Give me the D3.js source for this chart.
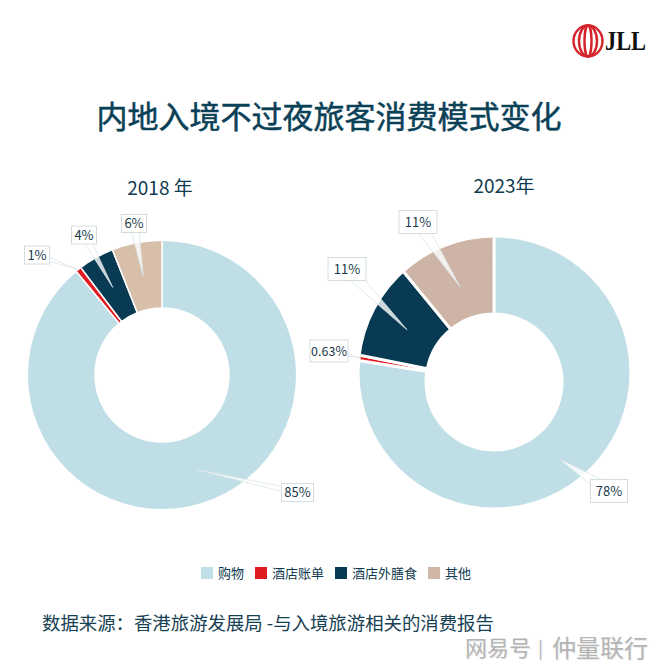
<!DOCTYPE html>
<html>
<head>
<meta charset="utf-8">
<script src="https://cdn.jsdelivr.net/npm/d3@7/dist/d3.min.js"></script>
<style>
    html, body { margin: 0; padding: 0; background: #fff; }
    svg { display: block; }
    text { font-family: "Noto Sans CJK SC", "Noto Sans", sans-serif; fill: #0f3b50; }
</style>
</head>
<body>
<div id="chart"></div>
<script>
// data
const categories = ["购物", "酒店账单", "酒店外膳食", "其他"];
const colors = ["#bfdee6", "#e01b22", "#083a53", "#d0b6a7"];
// the 2018 blue slice is drawn much larger than its printed 85%, so labels are kept apart
const values2018 = [89, 0.7, 4.3, 6];
const labels2018 = ["85%", "1%", "4%", "6%"];
const values2023 = [78, 0.63, 11, 11];
const labels2023 = ["78%", "0.63%", "11%", "11%"];

const width = 660, height = 670;

const svg = d3.select("#chart").append("svg")
    .attr("width", width)
    .attr("height", height);

// title
svg.append("text")
    .attr("x", 329)
    .attr("y", 128)
    .attr("text-anchor", "middle")
    .attr("font-size", 31)
    .attr("stroke", "#0b4157")
    .attr("stroke-width", 0.5)
    .style("fill", "#0b4157")
    .text("内地入境不过夜旅客消费模式变化");

// donut layout. In 2023 the hole sits lower than the outer circle, so the
// slices fan out from the hole and the outer circle is a clip.
const pies = [
    {
        id: "pie2018", title: "2018 年", titleX: 160, titleY: 195,
        values: values2018, labels: labels2018,
        cx: 162, cy: 375, outer: 134, hole: 67, clipCx: 162, clipCy: 375,
        stroke: 1.5, tan: "#d7bfaa",
        // box centre relative to the hole centre, box size, base width of pointer, radius of tip (null = centroid)
        callouts: [
            {dx: 135.5, dy: 117.5, w: 32, h: 18, base: 6, tip: null},
            {dx: -125, dy: -120, w: 25, h: 18, base: 5, tip: 134},
            {dx: -78, dy: -140, w: 25, h: 18, base: 8, tip: null},
            {dx: -28, dy: -151.5, w: 25, h: 18, base: 9, tip: null}
        ]
    },
    {
        id: "pie2023", title: "2023年", titleX: 504, titleY: 193,
        values: values2023, labels: labels2023,
        cx: 494, cy: 382, outer: 135, hole: 68, clipCx: 494.5, clipCy: 372.5,
        stroke: 3, tan: "#ceb4a6",
        callouts: [
            {dx: 115, dy: 109, w: 37, h: 23, base: 14, tip: null},
            {dx: -165, dy: -31, w: 38, h: 22, base: 4, tip: 135},
            {dx: -147, dy: -113, w: 38, h: 23, base: 13, tip: null},
            {dx: -76, dy: -160, w: 38, h: 23, base: 13, tip: null}
        ]
    }
];

const pie = d3.pie().sort(null);

pies.forEach(p => {
    const arcs = pie(p.values);

    svg.append("clipPath")
        .attr("id", p.id + "-clip")
        .append("circle")
        .attr("cx", p.clipCx)
        .attr("cy", p.clipCy)
        .attr("r", p.outer);

    svg.append("text")
        .attr("x", p.titleX)
        .attr("y", p.titleY)
        .attr("text-anchor", "middle")
        .attr("font-size", 19)
        .text(p.title);

    let g = svg.append("g")
        .attr("clip-path", "url(#" + p.id + "-clip)")
        .append("g")
        .attr("transform", "translate(" + p.cx + "," + p.cy + ")");

    let arc = d3.arc()
        .innerRadius(p.hole)
        .outerRadius(p.outer + 25);

    g.selectAll("path")
        .data(arcs)
        .enter().append("path")
        .attr("d", arc)
        .attr("fill", (d, i) => i === 3 ? p.tan : colors[i])
        .attr("stroke", "#fff")
        .attr("stroke-width", p.stroke);

    // callouts on top of the slices
    let labelArc = d3.arc().innerRadius(p.hole).outerRadius(p.outer);
    let callouts = svg.append("g")
        .attr("transform", "translate(" + p.cx + "," + p.cy + ")");

    arcs.forEach((d, i) => {
        let c = p.callouts[i];
        let tip = labelArc.centroid(d);
        if (c.tip) {
            let a = (d.startAngle + d.endAngle) / 2 - Math.PI / 2;
            tip = [c.tip * Math.cos(a), c.tip * Math.sin(a)];
        }

        // narrow pointer from the box centre to the tip
        let vx = tip[0] - c.dx, vy = tip[1] - c.dy;
        let len = Math.sqrt(vx * vx + vy * vy);
        let nx = -vy / len * c.base / 2, ny = vx / len * c.base / 2;
        callouts.append("path")
            .attr("d", "M" + (c.dx + nx) + "," + (c.dy + ny) + "L" + tip[0] + "," + tip[1] + "L" + (c.dx - nx) + "," + (c.dy - ny) + "Z")
            .attr("fill", "#fff")
            .attr("fill-opacity", 0.8)
            .attr("stroke", "#dbe5e8")
            .attr("stroke-width", 0.8);

        callouts.append("rect")
            .attr("x", c.dx - c.w / 2)
            .attr("y", c.dy - c.h / 2)
            .attr("width", c.w)
            .attr("height", c.h)
            .attr("fill", "#fff")
            .attr("stroke", "#d3dde1")
            .attr("stroke-width", 1);

        callouts.append("text")
            .attr("x", c.dx)
            .attr("y", c.dy + 4.5)
            .attr("text-anchor", "middle")
            .attr("font-size", i === 1 && p.id === "pie2023" ? 12.5 : 13)
            .style("fill", "#1b3a4b")
            .text(p.labels[i]);
    });
});

// legend
let legendX = 201;
categories.forEach((name, i) => {
    svg.append("rect")
        .attr("x", legendX)
        .attr("y", 567)
        .attr("width", 12)
        .attr("height", 12)
        .attr("fill", colors[i]);
    svg.append("text")
        .attr("x", legendX + 17)
        .attr("y", 578)
        .attr("font-size", 13)
        .text(name);
    legendX += 17 + name.length * 13 + 11;
});

// source line
svg.append("text")
    .attr("x", 42)
    .attr("y", 630)
    .attr("font-size", 18.4)
    .style("fill", "#164053")
    .text("数据来源：香港旅游发展局 -与入境旅游相关的消费报告");

// JLL logo
let logo = svg.append("g").attr("transform", "translate(588,41)");
[14.5, 9, 3.5].forEach(rx => {
    logo.append("ellipse")
        .attr("rx", rx)
        .attr("ry", 15.5)
        .attr("fill", "none")
        .attr("stroke", "#d4232b")
        .attr("stroke-width", 2.4);
});
svg.append("text")
    .attr("x", 605)
    .attr("y", 50)
    .attr("font-size", 27)
    .attr("font-weight", 700)
    .attr("textLength", 41)
    .attr("lengthAdjust", "spacingAndGlyphs")
    .style("font-family", "'Liberation Serif', serif")
    .style("fill", "#111")
    .text("JLL");

// watermark, drawn twice for the embossed look
[["#ececec", 1], ["#b4b4b4", 0]].forEach(w => {
    let mark = svg.append("g").attr("transform", "translate(" + w[1] + "," + w[1] + ")");
    mark.append("text").attr("x", 465).attr("y", 656).attr("font-size", 22).style("fill", w[0]).text("网易号");
    mark.append("text").attr("x", 538).attr("y", 655).attr("font-size", 18).style("fill", w[0]).text("|");
    mark.append("text").attr("x", 552).attr("y", 657).attr("font-size", 24).style("fill", w[0]).text("仲量联行");
});
</script>
</body>
</html>
